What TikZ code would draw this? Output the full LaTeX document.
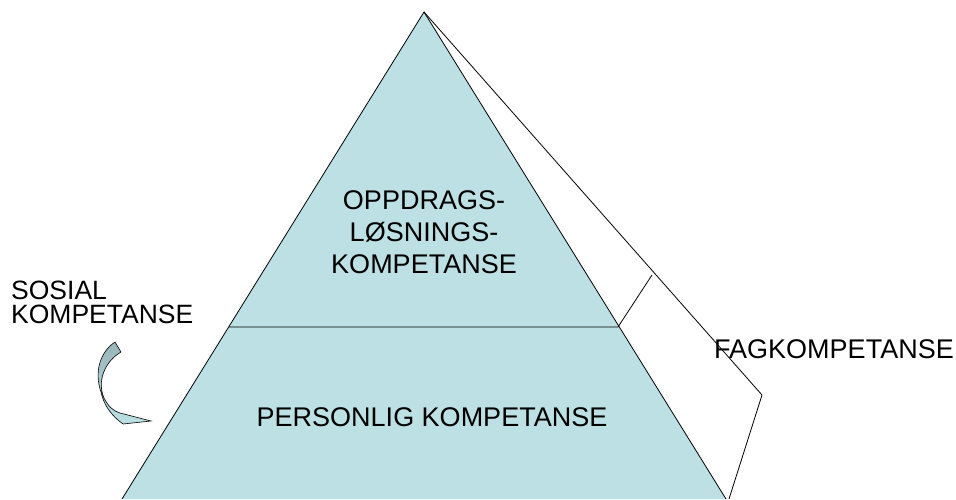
\documentclass[tikz,border=0pt]{standalone}
\usepackage{fontspec}
\setmainfont{Liberation Sans}
\definecolor{pyr}{HTML}{BCE0E3}
\definecolor{pyrdark}{HTML}{98B4B7}
\tikzset{
	label/.style={font=\fontsize{27}{32}\selectfont, align=center, inner sep=0pt},
	edge/.style={line width=0.8pt}
}

\begin{document}
\begin{tikzpicture}[x=1pt, y=-1pt]
	\useasboundingbox (0,0) rectangle (956,499);
	% corners of the pyramid
	\coordinate (top) at (424,12);
	\coordinate (bl) at (122,499);
	\coordinate (br) at (726,499);
	\coordinate (ml) at (229,327);
	\coordinate (mr) at (618,327);
	\coordinate (sr) at (762,395);
	\coordinate (sb) at (729,499);
	\coordinate (sk) at (652,275);
	\fill[pyr] (top) -- (bl) -- (br) -- cycle;
	\draw[edge] (bl) -- (top) -- (br);
	\draw[edge] (top) -- (sr) -- (sb);
	\draw[edge] (ml) -- (mr) -- (sk);
	% twisted arrow on the left
	\shade[top color=pyrdark, bottom color=pyr, draw, line width=0.6pt]
		(115,342) -- (121,352)
		.. controls (104,362) and (97,382) .. (104,398)
		.. controls (108,406) and (113,411) .. (120,413)
		-- (151,421) -- (123,424)
		.. controls (112,416) and (104,406) .. (101,392)
		.. controls (94,372) and (100,352) .. cycle;
	\node[label, anchor=north] (upper) at (424,190) {OPPDRAGS-\\LØSNINGS-\\KOMPETANSE};
	\node[label, anchor=base] (lower) at (432,426) {PERSONLIG KOMPETANSE};
	\node[label, anchor=base west, align=left, font=\fontsize{26.5}{24}\selectfont] (social) at (11,323) {SOSIAL\\KOMPETANSE};
	\node[label, anchor=base west] (fag) at (714,358) {FAGKOMPETANSE};
\end{tikzpicture}
\end{document}
